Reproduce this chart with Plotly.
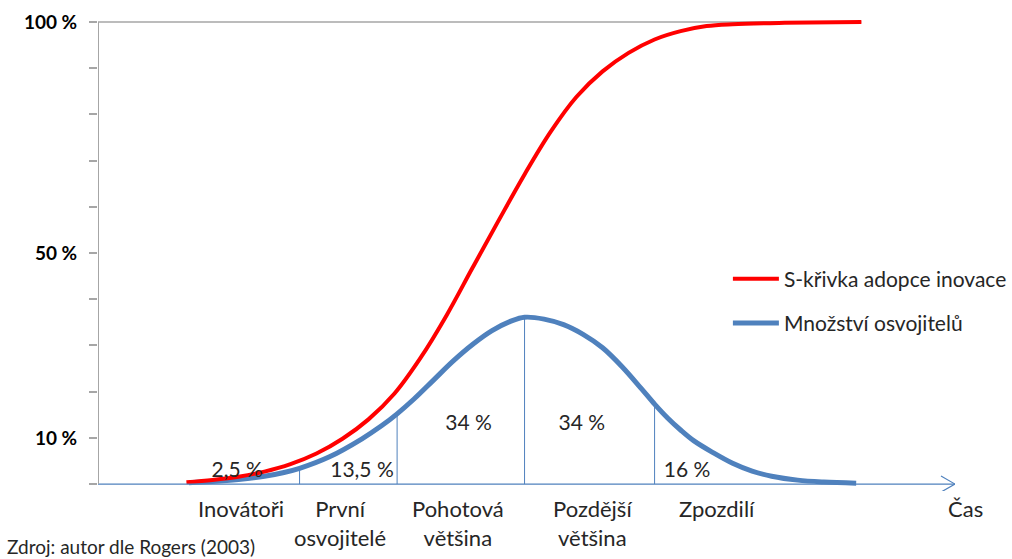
import numpy as np
import plotly.graph_objects as go

# ---- data (time in std-dev units from the mean, values in %) ----
t_blue = [-2.58, -2.4, -2.2, -2.0, -1.85, -1.73, -1.5, -1.25, -1.1, -0.98, -0.85, -0.7,
          -0.55, -0.4, -0.25, -0.1, 0.0, 0.15, 0.3, 0.45, 0.6, 0.75, 0.9, 1.0, 1.1, 1.2,
          1.3, 1.45, 1.6, 1.75, 1.9, 2.1, 2.3, 2.55]
blue = [0.3, 0.55, 1.0, 1.7, 2.5, 3.4, 5.9, 9.8, 12.6, 15.2, 18.4, 22.5,
        26.6, 30.2, 33.2, 35.3, 36.1, 35.7, 34.5, 32.4, 29.5, 25.4, 20.6, 17.3, 14.3, 11.7,
        9.4, 6.8, 4.5, 2.8, 1.7, 0.85, 0.45, 0.2]

t_red = [-2.6, -2.4, -2.2, -2.0, -1.8, -1.6, -1.4, -1.2, -1.0, -0.8, -0.6, -0.4, -0.2,
         0.0, 0.2, 0.4, 0.6, 0.8, 1.0, 1.2, 1.4, 1.6, 2.0, 2.59]
red = [0.4, 0.9, 1.6, 2.7, 4.3, 6.6, 9.8, 14.0, 19.6, 27.3, 36.5, 46.8, 57.0,
       67.0, 76.2, 83.8, 89.3, 93.3, 96.2, 98.0, 99.1, 99.5, 99.8, 100.0]

boundaries = [-1.73, -0.98, 0.0, 1.0]

share_labels = ["2,5 %", "13,5 %", "34 %", "34 %", "16 %"]
share_x = [-2.21, -1.25, -0.43, 0.44, 1.25]
share_y = [2.6, 2.6, 12.8, 12.8, 2.6]

categories = ["Inovátoři", "První<br>osvojitelé", "Pohotová<br>většina",
              "Pozdější<br>většina", "Zpozdilí", "Čas"]
cat_x = [-2.18, -1.42, -0.51, 0.52, 1.48, 3.39]

y_tickvals = list(range(0, 101, 10))
y_labels = {100: "100 %", 50: "50 %", 10: "10 %"}

series_names = ["S-křivka adopce inovace", "Množství osvojitelů"]
source_text = "Zdroj: autor dle Rogers (2003)"

# ---- styling ----
FONT = "Lato, Carlito, Calibri, sans-serif"
BLUE = "#4F81BD"
RED = "#FF0000"
GREY = "#A6A6A6"
TXT = "#262626"
X_RANGE = [-3.28, 3.31]

fig = go.Figure()

# separators under the bell curve
sep_h = np.interp(boundaries, t_blue, blue)
sx, sy = [], []
for b, h in zip(boundaries, sep_h):
    sx += [b, b, None]
    sy += [0, h, None]
fig.add_trace(go.Scatter(x=sx, y=sy, mode="lines", line=dict(color=BLUE, width=1),
                         showlegend=False, hoverinfo="skip"))

fig.add_trace(go.Scatter(x=t_blue, y=blue, mode="lines", name=series_names[1],
                         line=dict(color=BLUE, width=5, shape="spline", smoothing=1.0),
                         legendgroup="b", legendrank=2))
fig.add_trace(go.Scatter(x=t_red, y=red, mode="lines", name=series_names[0],
                         line=dict(color=RED, width=4, shape="spline", smoothing=1.0),
                         legendgroup="a", legendrank=1))

fig.add_trace(go.Scatter(x=share_x, y=share_y, mode="text", text=share_labels,
                         textfont=dict(family=FONT, size=21, color=TXT),
                         showlegend=False, hoverinfo="skip"))

# axes lines
fig.add_shape(type="line", xref="x", yref="y", x0=X_RANGE[0], x1=X_RANGE[1], y0=0, y1=0,
              line=dict(color=BLUE, width=1.2))
fig.add_shape(type="path", xref="x", yref="y", xsizemode="pixel", ysizemode="pixel",
              xanchor=X_RANGE[1], yanchor=0, path="M -14,8 L 0,0 L -14,-8",
              line=dict(color=BLUE, width=1.2))
fig.add_shape(type="line", xref="x", yref="y", x0=X_RANGE[0], x1=X_RANGE[0], y0=0, y1=100,
              line=dict(color=GREY, width=2))
fig.add_shape(type="line", xref="x", yref="y", x0=X_RANGE[0], x1=t_red[-1], y0=100, y1=100,
              line=dict(color=GREY, width=1.5), layer="below")

span = X_RANGE[1] - X_RANGE[0]
for c, x in zip(categories, cat_x):
    fig.add_annotation(x=(x - X_RANGE[0]) / span, y=-0.0042, xref="paper", yref="paper",
                       text=c, showarrow=False, yanchor="top", xanchor="center",
                       align="center", font=dict(family=FONT, size=22, color=TXT))

fig.add_annotation(x=-0.1085, y=-0.1176, xref="paper", yref="paper", text=source_text,
                   showarrow=False, xanchor="left", yanchor="middle",
                   font=dict(family=FONT, size=19, color=TXT))

fig.update_xaxes(range=X_RANGE, visible=False, showgrid=False, zeroline=False)
fig.update_yaxes(range=[-1.5, 101.5], showgrid=False, zeroline=False, showline=False,
                 automargin=False,
                 tickvals=y_tickvals,
                 ticktext=["<b>%s</b>" % y_labels.get(v, "") for v in y_tickvals],
                 ticks="outside", ticklen=8, tickwidth=1.5, tickcolor=GREY,
                 ticklabelstandoff=8,
                 tickfont=dict(family=FONT, size=19, color="#000000"))

fig.update_layout(
    width=1012, height=559,
    margin=dict(l=98, r=57, t=15, b=68, autoexpand=False),
    paper_bgcolor="white", plot_bgcolor="white",
    showlegend=True,
    legend=dict(x=0.735, y=0.399, xanchor="left", yanchor="middle",
                traceorder="grouped", tracegroupgap=14,
                font=dict(family=FONT, size=21, color=TXT),
                bgcolor="rgba(0,0,0,0)", itemwidth=46),
    font=dict(family=FONT),
)

fig.write_html("out.html", config={"displayModeBar": False},
               post_script="document.body.style.margin='0';document.body.style.overflow='hidden';")
